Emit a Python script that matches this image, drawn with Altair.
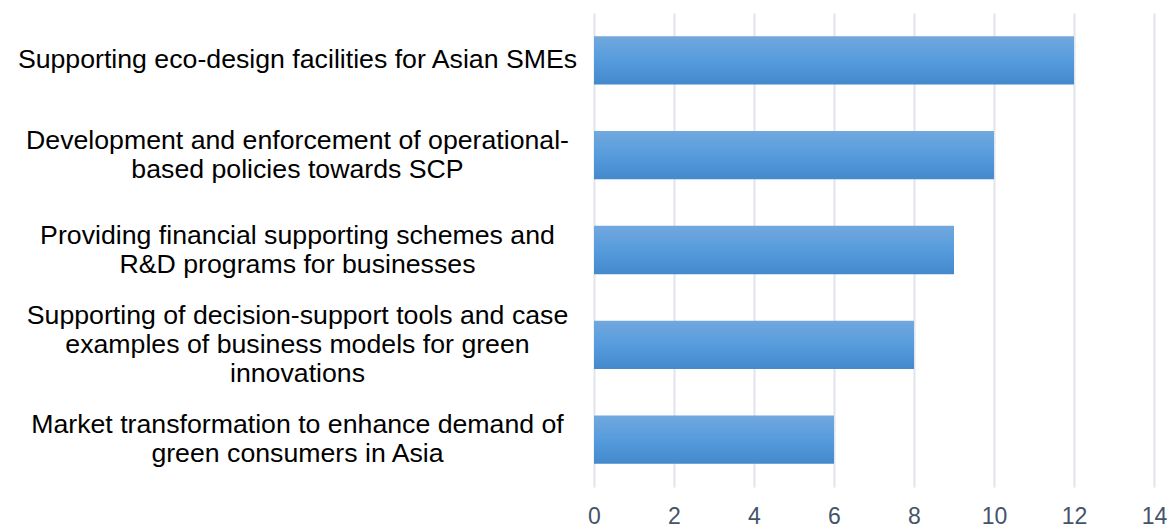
import altair as alt
import pandas as pd

categories = [
    "Supporting eco-design facilities for Asian SMEs",
    "Development and enforcement of operational-|based policies towards SCP",
    "Providing financial supporting schemes and|R&D programs for businesses",
    "Supporting of decision-support tools and case|examples of business models for green|innovations",
    "Market transformation to enhance demand of|green consumers in Asia",
]
values = [12, 10, 9, 8, 6]

df = pd.DataFrame({"category": categories, "value": values})

gradient = alt.Gradient(
    gradient="linear",
    stops=[
        alt.GradientStop(color="#72A8DE", offset=0),
        alt.GradientStop(color="#569CDD", offset=0.5),
        alt.GradientStop(color="#4489CB", offset=1),
    ],
    x1=0, x2=0, y1=0, y2=1,
)

LH = 29

chart = alt.Chart(df).mark_bar(color=gradient).encode(
    x=alt.X(
        "value:Q",
        scale=alt.Scale(domain=[0, 14], nice=False),
        axis=alt.Axis(
            values=[0, 2, 4, 6, 8, 10, 12, 14],
            title=None,
            domain=False,
            ticks=False,
            grid=True,
            gridColor="#E1E4EA",
            gridWidth=2,
            labelFlush=False,
            labelFont="Liberation Sans",
            labelFontSize=23,
            labelColor="#44546A",
            labelPadding=18,
        ),
    ),
    y=alt.Y(
        "category:N",
        sort=None,
        scale=alt.Scale(paddingInner=0.49, paddingOuter=0.245),
        axis=alt.Axis(
            title=None,
            domain=False,
            ticks=False,
            grid=False,
            labelExpr="split(datum.label, '|')",
            labelAlign="center",
            labelBaseline="middle",
            labelPadding=297,
            labelLimit=0,
            labelFont="Liberation Sans",
            labelFontSize=26.7,
            labelLineHeight=LH,
            labelColor="#000000",
            labelOffset={
                "condition": [
                    {"test": "length(split(datum.label, '|')) == 3", "value": -LH},
                    {"test": "length(split(datum.label, '|')) == 2", "value": -LH / 2},
                ],
                "value": 0,
            },
        ),
    ),
).properties(
    width=560,
    height=474,
    autosize=alt.AutoSizeParams(type="none"),
    padding={"left": 594, "top": 13, "right": 16, "bottom": 40},
).configure_view(stroke=None)

chart.save("out.html", embed_options={"renderer": "svg", "actions": False})
